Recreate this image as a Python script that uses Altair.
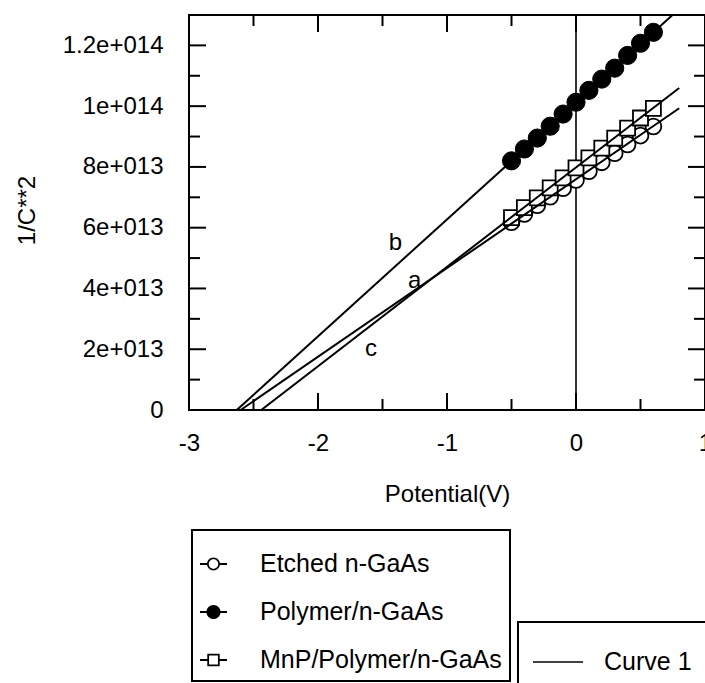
import altair as alt
import pandas as pd

# ---------------- data ----------------
potential = [-0.5, -0.4, -0.3, -0.2, -0.1, 0.0, 0.1, 0.2, 0.3, 0.4, 0.5, 0.6]
etched = [6.18e13, 6.45e13, 6.74e13, 7.02e13, 7.30e13, 7.57e13,
          7.86e13, 8.15e13, 8.45e13, 8.74e13, 9.03e13, 9.33e13]
polymer = [8.20e13, 8.59e13, 8.95e13, 9.34e13, 9.74e13, 10.13e13,
           10.52e13, 10.89e13, 11.25e13, 11.67e13, 12.07e13, 12.43e13]
mnp = [6.33e13, 6.66e13, 6.98e13, 7.31e13, 7.64e13, 7.97e13,
       8.30e13, 8.62e13, 8.95e13, 9.28e13, 9.61e13, 9.93e13]

series_names = ["Etched n-GaAs", "Polymer/n-GaAs", "MnP/Polymer/n-GaAs"]

fit_names = ["a", "b", "c"]
fit_x_start = [-2.60, -2.63, -2.44]
fit_x_end = [0.8, 0.8, 0.8]
fit_y_end = [9.93e13, 1.32e14, 1.06e14]
curve_name = "Curve 1"

label_text = ["a", "b", "c"]
label_x = [-1.25, -1.40, -1.59]
label_y = [4.25e13, 5.5e13, 2.0e13]

x_tick_vals = [-3, -2, -1, 0, 1]
x_tick_labels = ["-3", "-2", "-1", "0", "1"]
x_minor_vals = [-2.5, -1.5, -0.5, 0.5]
y_tick_vals = [0, 2e13, 4e13, 6e13, 8e13, 1e14, 1.2e14]
y_tick_labels = ["0", "2e+013", "4e+013", "6e+013", "8e+013", "1e+014", "1.2e+014"]
y_minor_vals = [1e13, 3e13, 5e13, 7e13, 9e13, 1.1e14]

# ---------------- layout / style ----------------
W, H = 516, 395
FONT = "Liberation Sans"
FS = 24
LFS = 25
MAJ, MIN = 17, 11


def label_expr(vals, labels):
    parts = "".join(f"datum.value == {float(v)!r} ? '{l}' : " for v, l in zip(vals, labels))
    return parts + "''"


xs = alt.Scale(domain=[-3, 1], nice=False, zero=False)
ys = alt.Scale(domain=[0, 1.3e14], nice=False, zero=False)

x_axis = alt.Axis(values=x_tick_vals, labelExpr=label_expr(x_tick_vals, x_tick_labels),
                  title="Potential(V)", labelPadding=21, titlePadding=27,
                  ticks=False, domain=False, grid=False, labelFlush=False, labelOverlap=False)
y_axis = alt.Axis(values=y_tick_vals, labelExpr=label_expr(y_tick_vals, y_tick_labels),
                  title="1/C**2", labelPadding=26, titleX=-162, titleY=195,
                  titleBaseline="middle", titleAngle=270,
                  ticks=False, domain=False, grid=False, labelFlush=False, labelOverlap=False)

X = alt.X("x:Q", scale=xs, axis=x_axis)
Y = alt.Y("y:Q", scale=ys, axis=y_axis)

# ---------------- data frames ----------------
pts = {
    name: pd.DataFrame({"x": potential, "y": vals})
    for name, vals in zip(series_names, [etched, polymer, mnp])
}

line_rows = []
for n, x0, x1, y1 in zip(fit_names, fit_x_start, fit_x_end, fit_y_end):
    line_rows.append({"x": x0, "y": 0.0, "line": n, "curve": curve_name})
    line_rows.append({"x": x1, "y": y1, "line": n, "curve": curve_name})
lines_df = pd.DataFrame(line_rows)

labels_df = pd.DataFrame({"x": label_x, "y": label_y, "t": label_text})

# ---------------- layers ----------------
zero_rule = alt.Chart(pd.DataFrame({"x": [0.0]})).mark_rule(
    color="black", strokeWidth=1.6).encode(x=X)

etched_layer = alt.Chart(pts[series_names[0]]).mark_point(
    shape="circle", size=250, filled=True, fill="white", stroke="black",
    strokeWidth=1.8, opacity=1).encode(x=X, y=Y)
mnp_layer = alt.Chart(pts[series_names[2]]).mark_point(
    shape="square", size=225, filled=True, fill="white", stroke="black",
    strokeWidth=1.8, opacity=1).encode(x=X, y=Y)
polymer_layer = alt.Chart(pts[series_names[1]]).mark_point(
    shape="circle", size=330, filled=True, fill="black", stroke="black",
    strokeWidth=1, opacity=1).encode(x=X, y=Y)

leg2 = alt.Legend(orient="none", legendX=329, legendY=607, direction="vertical",
                  title=None, padding=14,
                  strokeColor="black", symbolType="stroke", symbolSize=2500,
                  symbolStrokeWidth=1.6, symbolStrokeColor="black",
                  labelFont=FONT, labelFontSize=LFS, labelColor="black",
                  labelOffset=20, labelLimit=0)

lines_layer = alt.Chart(lines_df).mark_line(clip=True, strokeWidth=2).encode(
    x=X, y=Y, detail="line:N",
    stroke=alt.Stroke("curve:N", scale=alt.Scale(domain=[curve_name], range=["black"]),
                      legend=leg2))

text_layer = alt.Chart(labels_df).mark_text(
    font=FONT, fontSize=FS, color="black", align="center", baseline="middle").encode(
    x=X, y=Y, text="t:N")

# legend symbols drawn as filled outlines: a short line through each marker
BAR = "M-1,-0.07L{e},-0.07L{e},0.07L-1,0.07ZM{f},-0.07L1,-0.07L1,0.07L{f},0.07Z"


def ring(r_out, r_in):
    return (f"M{r_out},0A{r_out},{r_out},0,1,1,{-r_out},0A{r_out},{r_out},0,1,1,{r_out},0Z"
            f"M{r_in},0A{r_in},{r_in},0,1,0,{-r_in},0A{r_in},{r_in},0,1,0,{r_in},0Z")


def disk(r):
    return f"M{r},0A{r},{r},0,1,1,{-r},0A{r},{r},0,1,1,{r},0Z"


def square_ring(a, b):
    return (f"M{-a},{-a}L{a},{-a}L{a},{a}L{-a},{a}Z"
            f"M{-b},{-b}L{-b},{b}L{b},{b}L{b},{-b}Z")


legend_paths = [
    BAR.format(e=-0.47, f=0.47) + ring(0.48, 0.35),
    BAR.format(e=-0.5, f=0.5) + disk(0.52),
    BAR.format(e=-0.45, f=0.45) + square_ring(0.46, 0.33),
]
leg1 = alt.Legend(orient="none", legendX=3, legendY=515, direction="vertical",
                  title=" ", titleFontSize=5, titlePadding=7.5, padding=8,
                  strokeColor="black", symbolSize=729,
                  symbolStrokeWidth=0, symbolFillColor="black", symbolOpacity=1,
                  labelFont=FONT, labelFontSize=LFS, labelColor="black",
                  labelOffset=33, labelLimit=0, rowPadding=21)
legend_layer = alt.Chart(pd.DataFrame({"series": series_names})).mark_point(
    filled=True, color="black", strokeWidth=0, opacity=1).encode(
    shape=alt.Shape("series:N", scale=alt.Scale(domain=series_names, range=legend_paths), legend=leg1),
).transform_filter("false")


def xticks(vals, L, side):
    y1, y2 = (H, H - L) if side == "bottom" else (0, L)
    return alt.Chart(pd.DataFrame({"x": vals})).mark_rule(color="black", strokeWidth=2).encode(
        x=X, y=alt.value(y1), y2=alt.value(y2))


def yticks(vals, L, side):
    x1, x2 = (0, L) if side == "left" else (W, W - L)
    return alt.Chart(pd.DataFrame({"y": vals})).mark_rule(color="black", strokeWidth=2).encode(
        y=Y, x=alt.value(x1), x2=alt.value(x2))


tick_layers = []
for side in ["bottom", "top"]:
    tick_layers.append(xticks(x_tick_vals, MAJ, side))
    tick_layers.append(xticks(x_minor_vals, MIN, side))
for side in ["left", "right"]:
    tick_layers.append(yticks(y_tick_vals, MAJ, side))
    tick_layers.append(yticks(y_minor_vals, MIN, side))

chart = alt.layer(
    zero_rule, etched_layer, mnp_layer, polymer_layer, lines_layer, text_layer,
    legend_layer, *tick_layers
).properties(
    width=W, height=H,
    autosize=alt.AutoSizeParams(type="none"),
    padding={"left": 189, "top": 15, "right": 0, "bottom": 273},
).configure_view(
    stroke="black", strokeWidth=2
).configure_axis(
    labelFont=FONT, labelFontSize=FS, labelColor="black",
    titleFont=FONT, titleFontSize=FS, titleColor="black", titleFontWeight="normal"
).configure_legend(
    strokeWidth=2
)

chart.save("out.html", embed_options={"renderer": "svg", "actions": False})
